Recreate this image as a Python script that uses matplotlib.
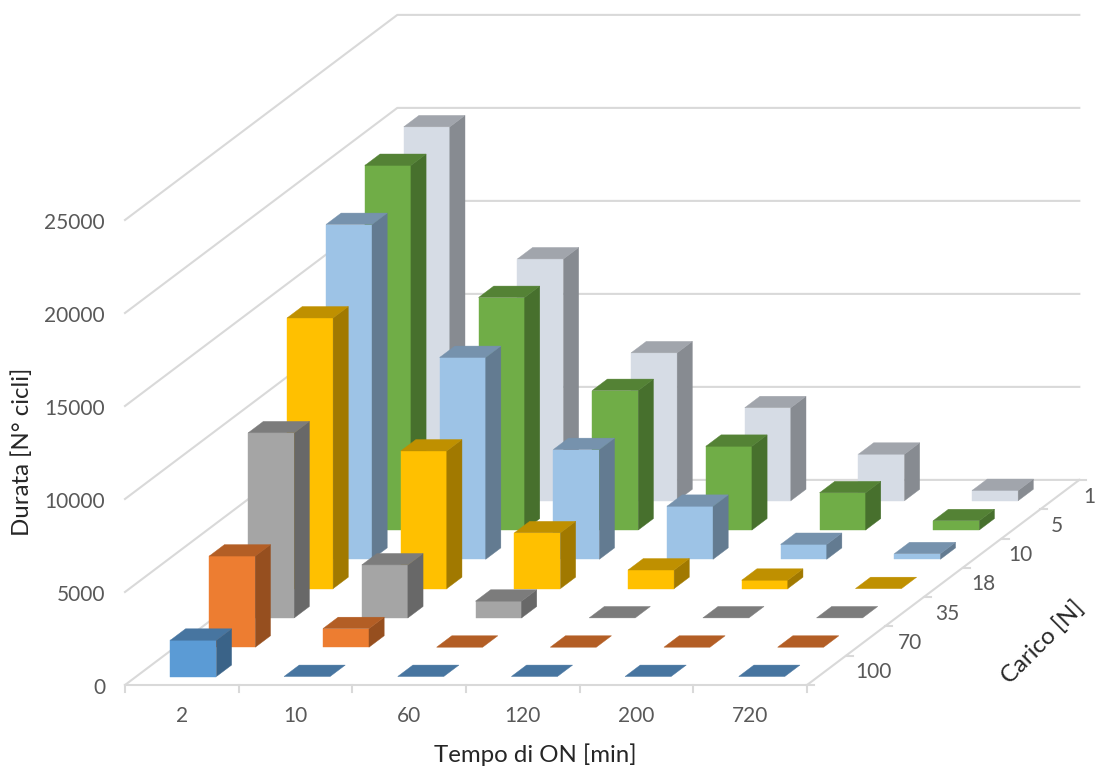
import matplotlib
matplotlib.use("Agg")
import matplotlib.pyplot as plt
from matplotlib.patches import Polygon

tempo = ["2", "10", "60", "120", "200", "720"]
carico = ["100", "70", "35", "18", "10", "5", "1"]
y_ticks = [0, 5000, 10000, 15000, 20000, 25000]

# one list per load, front row first
carico_100 = [1950, 0, 0, 0, 0, 0]
carico_70 = [4900, 1000, 0, 0, 0, 0]
carico_35 = [9950, 2850, 900, 0, 0, 0]
carico_18 = [14550, 7400, 3000, 1000, 450, 0]
carico_10 = [18000, 10850, 5900, 2850, 800, 300]
carico_5 = [19600, 12500, 7500, 4500, 2000, 500]
carico_1 = [20100, 13000, 7950, 5000, 2500, 550]
rows = [carico_100, carico_70, carico_35, carico_18, carico_10, carico_5, carico_1]

front_col = ['#5B9BD5', '#ED7D31', '#A5A5A5', '#FFC000', '#9DC3E6', '#70AD47', '#D6DCE5']
top_col = ['#4775A0', '#B35E25', '#7C7C7C', '#BF9000', '#7692AD', '#548235', '#A1A5AC']
side_col = ['#3A6388', '#964F1F', '#686868', '#A17900', '#637B91', '#47702D', '#878B91']

grid_col = '#D9D9D9'
text_col = '#595959'
font = 'Lato'


def proj(a, b, v=0):
    # oblique view, a along tempo, b along carico, v is height
    return (125 + 113.67 * a + 38.9 * b, 685 - 29.3 * b - v * 93 / 5000)


fig = plt.figure(figsize=(10.97, 7.69), dpi=100)
ax = fig.add_axes([0, 0, 1, 1])
ax.set_xlim(0, 1097)
ax.set_ylim(769, 0)
ax.axis('off')

n_a, n_b = len(tempo), len(carico)

# walls and floor
for v in y_ticks:
    p = [proj(0, 0, v), proj(0, n_b, v), proj(n_a, n_b, v)]
    ax.plot([q[0] for q in p], [q[1] for q in p], color=grid_col, lw=1.5, zorder=1)
p = [proj(0, 0), proj(n_a, 0), proj(n_a, n_b)]
ax.plot([q[0] for q in p], [q[1] for q in p], color=grid_col, lw=1.5, zorder=1)

# tick marks
for i in range(n_a + 1):
    x, y = proj(i, 0)
    ax.plot([x, x], [y, y + 7], color=grid_col, lw=1.5, zorder=1)
for j in range(n_b + 1):
    x, y = proj(n_a, j)
    ax.plot([x, x + 7], [y, y], color=grid_col, lw=1.5, zorder=1)

# bars, back row first
z = 2
for j in reversed(range(n_b)):
    for i, val in enumerate(rows[j]):
        a0, a1 = i + 0.30, i + 0.705
        b0, b1 = j + 0.29, j + 0.68
        front = [proj(a0, b0), proj(a1, b0), proj(a1, b0, val), proj(a0, b0, val)]
        side = [proj(a1, b0), proj(a1, b1), proj(a1, b1, val), proj(a1, b0, val)]
        top = [proj(a0, b0, val), proj(a1, b0, val), proj(a1, b1, val), proj(a0, b1, val)]
        if val > 0:
            ax.add_patch(Polygon(front, fc=front_col[j], ec=front_col[j], lw=0.3, zorder=z))
            ax.add_patch(Polygon(side, fc=side_col[j], ec=side_col[j], lw=0.3, zorder=z))
        ax.add_patch(Polygon(top, fc=top_col[j], ec=top_col[j], lw=0.3, zorder=z))
        z += 1

# labels
for v in y_ticks:
    x, y = proj(0, 0, v)
    ax.text(x - 20, y + 3, str(v), ha='right', va='center', fontsize=15, color=text_col, family=font)
for i, lab in enumerate(tempo):
    x, y = proj(i + 0.5, 0)
    ax.text(x, y + 31, lab, ha='center', va='center', fontsize=15, color=text_col, family=font)
for j, lab in enumerate(carico):
    x, y = proj(n_a, j + 0.5)
    ax.text(min(x + 47 - 2.2 * j, 1089), y + 2, lab, ha='center', va='center', fontsize=15, color=text_col, family=font)

ax.text(22, 452, "Durata [N° cicli]", rotation=90, ha='center', va='center', fontsize=17.3, color='#262626', family=font)
ax.text(535, 755, "Tempo di ON [min]", ha='center', va='center', fontsize=17.3, color='#262626', family=font)
ax.text(1043, 642, "Carico [N]", rotation=45, rotation_mode='anchor', ha='center', va='center', fontsize=17.3, color='#262626', family=font)

fig.savefig("out.png", dpi=100)
